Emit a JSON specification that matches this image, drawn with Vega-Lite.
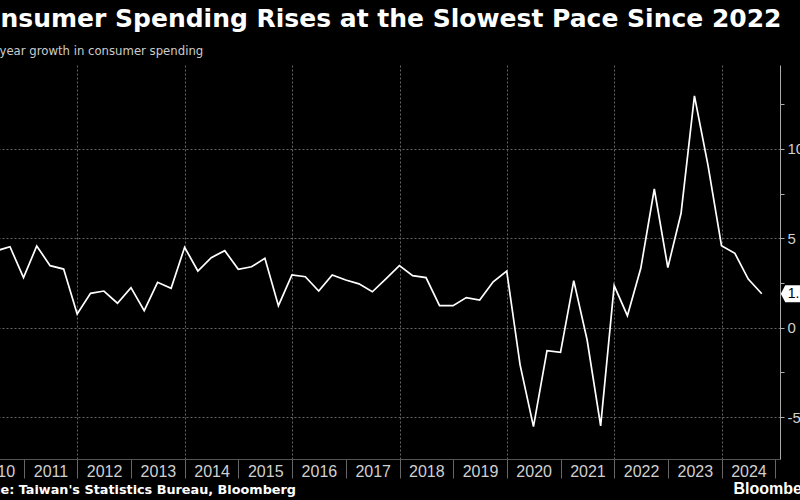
{
  "$schema": "https://vega.github.io/schema/vega-lite/v6.json",
  "width": 810,
  "height": 394,
  "autosize": {"type": "none"},
  "padding": {"left": -30, "top": 65, "right": 20, "bottom": 41},
  "background": "#000000",
  "config": {"view": {"stroke": null}},
  "title": {
    "text": "Consumer Spending Rises at the Slowest Pace Since 2022",
    "anchor": "start",
    "frame": "group",
    "font": "DejaVu Sans",
    "fontWeight": "bold",
    "fontSize": 25,
    "color": "#ffffff",
    "baseline": "alphabetic",
    "dx": -5,
    "dy": 7,
    "offset": 0
  },
  "datasets": {
    "series": [
      {"date": "2010-03-31", "value": 3.9},
      {"date": "2010-06-30", "value": 4.3},
      {"date": "2010-09-30", "value": 4.53},
      {"date": "2010-12-31", "value": 2.8},
      {"date": "2011-03-31", "value": 4.57},
      {"date": "2011-06-30", "value": 3.47},
      {"date": "2011-09-30", "value": 3.28},
      {"date": "2011-12-31", "value": 0.77},
      {"date": "2012-03-31", "value": 1.92},
      {"date": "2012-06-30", "value": 2.05},
      {"date": "2012-09-30", "value": 1.37},
      {"date": "2012-12-31", "value": 2.24},
      {"date": "2013-03-31", "value": 0.95},
      {"date": "2013-06-30", "value": 2.54},
      {"date": "2013-09-30", "value": 2.2},
      {"date": "2013-12-31", "value": 4.5},
      {"date": "2014-03-31", "value": 3.17},
      {"date": "2014-06-30", "value": 3.92},
      {"date": "2014-09-30", "value": 4.31},
      {"date": "2014-12-31", "value": 3.27},
      {"date": "2015-03-31", "value": 3.41},
      {"date": "2015-06-30", "value": 3.88},
      {"date": "2015-09-30", "value": 1.23},
      {"date": "2015-12-31", "value": 2.95},
      {"date": "2016-03-31", "value": 2.85},
      {"date": "2016-06-30", "value": 2.05},
      {"date": "2016-09-30", "value": 2.95},
      {"date": "2016-12-31", "value": 2.67},
      {"date": "2017-03-31", "value": 2.45},
      {"date": "2017-06-30", "value": 2.01},
      {"date": "2017-09-30", "value": 2.73},
      {"date": "2017-12-31", "value": 3.47},
      {"date": "2018-03-31", "value": 2.91},
      {"date": "2018-06-30", "value": 2.8},
      {"date": "2018-09-30", "value": 1.23},
      {"date": "2018-12-31", "value": 1.23},
      {"date": "2019-03-31", "value": 1.68},
      {"date": "2019-06-30", "value": 1.55},
      {"date": "2019-09-30", "value": 2.57},
      {"date": "2019-12-31", "value": 3.17},
      {"date": "2020-03-31", "value": -2.08},
      {"date": "2020-06-30", "value": -5.54},
      {"date": "2020-09-30", "value": -1.29},
      {"date": "2020-12-31", "value": -1.38},
      {"date": "2021-03-31", "value": 2.63},
      {"date": "2021-06-30", "value": -0.69},
      {"date": "2021-09-30", "value": -5.5},
      {"date": "2021-12-31", "value": 2.35},
      {"date": "2022-03-31", "value": 0.67},
      {"date": "2022-06-30", "value": 3.32},
      {"date": "2022-09-30", "value": 7.76},
      {"date": "2022-12-31", "value": 3.36},
      {"date": "2023-03-31", "value": 6.4},
      {"date": "2023-06-30", "value": 12.97},
      {"date": "2023-09-30", "value": 9.1},
      {"date": "2023-12-31", "value": 4.59},
      {"date": "2024-03-31", "value": 4.16},
      {"date": "2024-06-30", "value": 2.72},
      {"date": "2024-09-30", "value": 1.9}
    ],
    "last": [
      {"date": "2024-09-30", "value": 1.9}
    ]
  },
  "encoding": {
    "x": {
      "field": "date",
      "type": "temporal",
      "scale": {"domain": [{"year": 2010, "month": 1, "date": 1}, {"year": 2025, "month": 2, "date": 1}]},
      "axis": {
        "orient": "bottom",
        "tickCount": {"interval": "year", "step": 1},
        "format": "%Y",
        "labelExpr": "year(datum.value) >= 2025 ? '' : datum.label",
        "labelAlign": "center",
        "labelOffset": 26.8,
        "labelBaseline": "alphabetic",
        "labelPadding": -2,
        "labelFont": "Liberation Sans",
        "labelFontSize": 16,
        "labelColor": "#d0d0d0",
        "labelFlush": false,
        "labelOverlap": false,
        "labelBound": false,
        "tickSize": 19,
        "tickColor": "#666666",
        "tickWidth": 1,
        "domainColor": "#555555",
        "domainWidth": 1,
        "grid": true,
        "gridColor": "#666666",
        "gridDash": [2, 2],
        "gridOpacity": {"condition": {"test": "year(datum.value) % 2 === 0", "value": 1}, "value": 0},
        "title": "Source: Taiwan's Statistics Bureau, Bloomberg",
        "titleX": -11,
        "titleY": 34,
        "titleAlign": "left",
        "titleBaseline": "alphabetic",
        "titleFont": "DejaVu Sans",
        "titleFontWeight": "bold",
        "titleFontSize": 12.8,
        "titleColor": "#ffffff"
      }
    }
  },
  "layer": [
    {
      "data": {"name": "series"},
      "mark": {"type": "line", "color": "#ffffff", "strokeWidth": 1.7, "clip": true},
      "encoding": {
        "y": {
          "field": "value",
          "type": "quantitative",
          "scale": {"domain": [-7.35, 14.7], "nice": false, "zero": false},
          "axis": {
            "orient": "right",
            "values": [-5, -2.5, 0, 2.5, 5, 7.5, 10, 12.5],
            "labelExpr": "datum.value % 5 === 0 ? toString(datum.value) : ''",
            "tickSize": 4,
            "tickColor": "#aaaaaa",
            "domainColor": "#aaaaaa",
            "labelPadding": 3,
            "labelFont": "Liberation Sans",
            "labelFontSize": 15,
            "labelColor": "#d0d0d0",
            "labelBaseline": "middle",
            "grid": true,
            "gridColor": "#666666",
            "gridDash": [2, 2],
            "gridOpacity": {"condition": {"test": "datum.value % 5 === 0", "value": 1}, "value": 0},
            "title": "Year-on-year growth in consumer spending",
            "titleAngle": 0,
            "titleX": -828,
            "titleY": -11,
            "titleAlign": "left",
            "titleBaseline": "alphabetic",
            "titleFont": "DejaVu Sans",
            "titleFontWeight": "normal",
            "titleFontSize": 11.7,
            "titleColor": "#cccccc"
          }
        }
      }
    },
    {
      "data": {"name": "last"},
      "mark": {"type": "point", "shape": "M1.9,0L2.35,-0.85L6,-0.85L6,0.85L2.35,0.85Z", "filled": true, "color": "#ffffff", "opacity": 1, "size": 400, "strokeWidth": 0},
      "encoding": {
        "y": {
          "field": "value",
          "type": "quantitative",
          "axis": {
            "orient": "left",
            "domain": false,
            "ticks": false,
            "labels": false,
            "grid": false,
            "title": "Bloomberg",
            "titleAngle": 0,
            "titleX": 763,
            "titleY": 428,
            "titleAlign": "left",
            "titleBaseline": "alphabetic",
            "titleFont": "Liberation Sans",
            "titleFontWeight": "bold",
            "titleFontSize": 16,
            "titleColor": "#ffffff"
          }
        }
      }
    },
    {
      "data": {"name": "last"},
      "mark": {"type": "text", "dx": 26, "align": "left", "baseline": "middle", "font": "Liberation Sans", "fontSize": 14, "color": "#000000"},
      "encoding": {
        "y": {"field": "value", "type": "quantitative", "axis": null},
        "text": {"field": "value", "type": "quantitative", "format": ".1f"}
      }
    }
  ],
  "resolve": {"axis": {"y": "independent"}}
}
